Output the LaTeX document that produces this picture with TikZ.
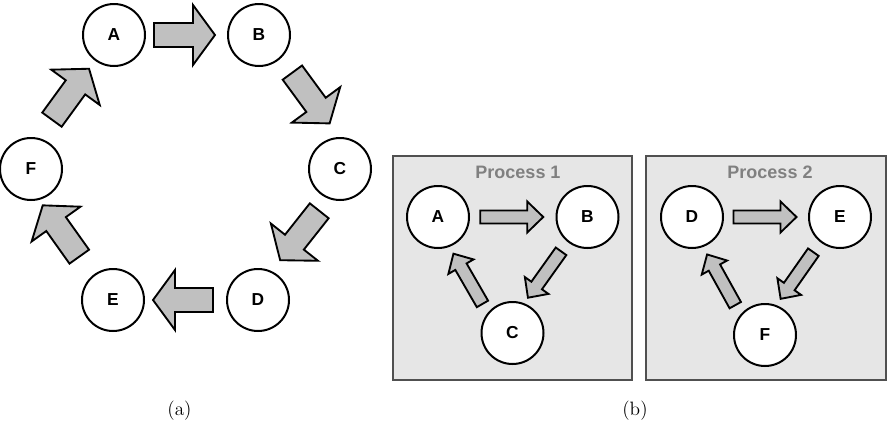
\documentclass[tikz,border=0pt]{standalone}
\usepackage{fontspec}
\newfontfamily\arial{Liberation Sans}
\usetikzlibrary{calc}
\definecolor{arrowgray}{HTML}{C0C0C0}
\definecolor{boxgray}{HTML}{E6E6E6}
\definecolor{boxline}{HTML}{505050}
\definecolor{titlegray}{HTML}{808080}
% block arrow between two named nodes:
% #1 from, #2 to, #3 length, #4 shaft half-width, #5 head half-width,
% #6 head length, #7 dx, #8 dy (offset of centre), #9 extra rotation
\newcommand{\blkarrow}[9]{%
  \pgfmathanglebetweenpoints{\pgfpointanchor{#1}{center}}{\pgfpointanchor{#2}{center}}%
  \edef\blkang{\pgfmathresult}%
  \begin{scope}[shift={($(#1)!0.5!(#2)+(#7,#8)$)}, rotate={\blkang+#9}]
    \draw[blkstyle] ({-#3/2},{-#4}) -- ({#3/2-#6},{-#4}) -- ({#3/2-#6},{-#5})
      -- ({#3/2},0) -- ({#3/2-#6},{#5}) -- ({#3/2-#6},{#4}) -- ({-#3/2},{#4}) -- cycle;
  \end{scope}}
\begin{document}
\begin{tikzpicture}[x=0.75pt,y=-0.75pt,
  circ/.style={circle, draw=black, line width=1.5pt, fill=white,
    minimum size=46.5pt, inner sep=0pt,
    font=\arial\bfseries\fontsize{13}{15}\selectfont},
  blkstyle/.style={draw=black, line width=1.4pt, fill=arrowgray, line join=miter},
  procbox/.style={draw=boxline, line width=1.1pt, fill=boxgray},
  proctitle/.style={text=titlegray, font=\arial\bfseries\fontsize{13.5}{16}\selectfont},
  caption/.style={font=\fontsize{14.5}{17}\selectfont}
]
\useasboundingbox (0,0) rectangle (893,429);

% ---------- (a) ----------
\node[circ] (a1) at (114,35) {A};
\node[circ] (b1) at (259,35) {B};
\node[circ] (c1) at (340,169) {C};
\node[circ] (d1) at (258,300) {D};
\node[circ] (e1) at (113,300) {E};
\node[circ] (f1) at (31,169) {F};

\blkarrow{a1}{b1}{61}{12}{30}{22}{-2}{0}{0}
\blkarrow{b1}{c1}{63}{12}{30}{23}{11.5}{-4}{5.1}
\blkarrow{c1}{d1}{63}{12}{30}{23}{0.7}{1}{-6.3}
\blkarrow{d1}{e1}{60}{12}{30}{22}{-2.5}{0}{0}
\blkarrow{e1}{f1}{63}{12}{30}{23}{-11}{-3.5}{3.4}
\blkarrow{f1}{a1}{63}{12}{30}{23}{-2}{-7.8}{-4.3}

\node[caption] (capa) at (179.5,411) {(a)};

% ---------- (b) ----------
\node[procbox, minimum width=179.25pt, minimum height=168pt, inner sep=0pt]
  (box1) at (512.5,268) {};
\node[procbox, minimum width=180pt, minimum height=168pt, inner sep=0pt]
  (box2) at (766,268) {};

\node[proctitle] (t1) at (518,172) {Process 1};
\node[proctitle] (t2) at (770,172) {Process 2};

\node[circ] (a2) at (438,217) {A};
\node[circ] (b2) at (587.5,217) {B};
\node[circ] (c2) at (512.5,333) {C};
\node[circ] (d2) at (692,217) {D};
\node[circ] (e2) at (840,217) {E};
\node[circ] (f2) at (765,335) {F};

\blkarrow{a2}{b2}{63}{6.5}{15.5}{16}{-1}{0}{0}
\blkarrow{b2}{c2}{57}{6.5}{14.5}{15}{-5.5}{-0.5}{-2.6}
\blkarrow{c2}{a2}{58}{6.5}{14.5}{15}{-7.3}{3.8}{-2.7}
\blkarrow{d2}{e2}{63}{6.5}{15.5}{16}{-1}{0}{0}
\blkarrow{e2}{f2}{57}{6.5}{14.5}{15}{-5.5}{-0.5}{-2.6}
\blkarrow{f2}{d2}{58}{6.5}{14.5}{15}{-7.3}{3.8}{-2.7}

\node[caption] (capb) at (635,411) {(b)};
\end{tikzpicture}
\end{document}
